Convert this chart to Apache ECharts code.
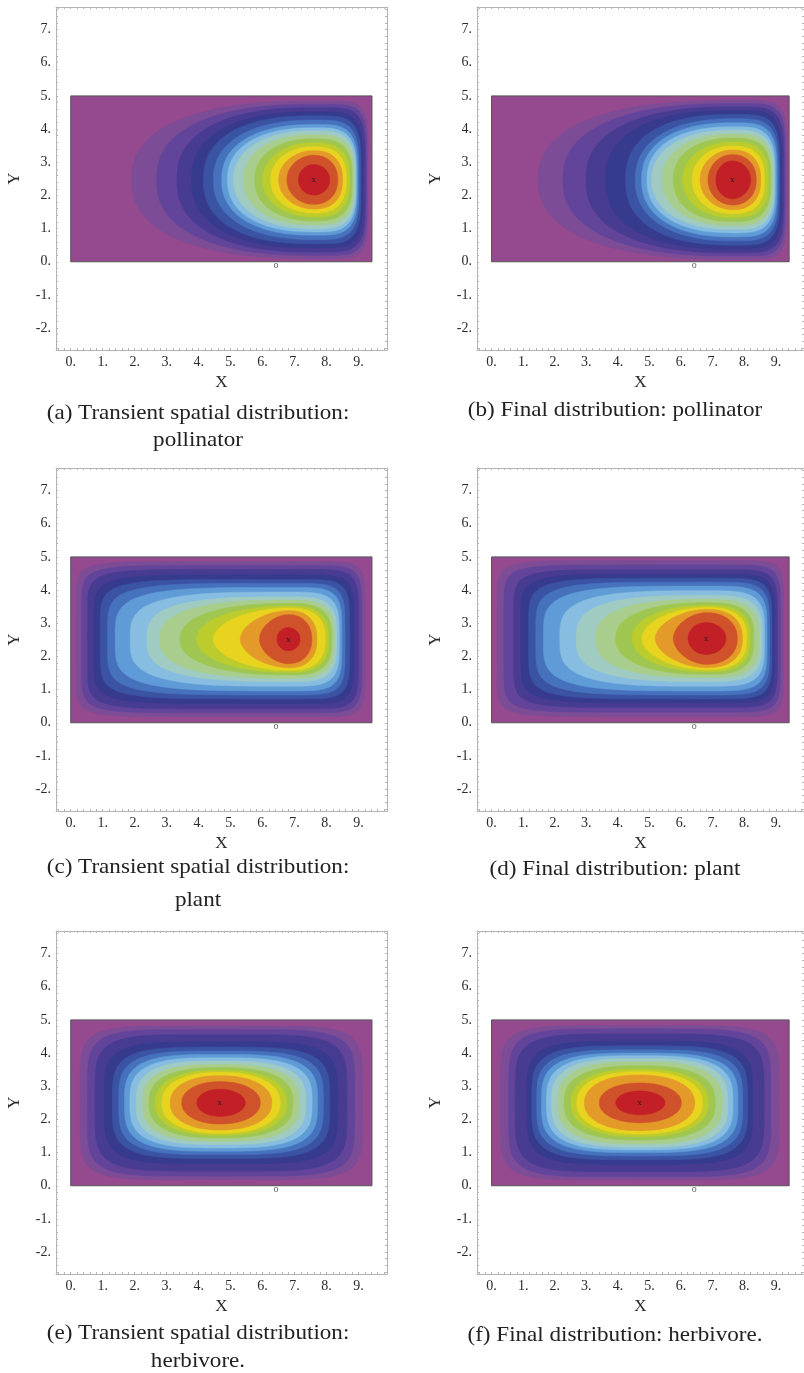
<!DOCTYPE html>
<html><head><meta charset="utf-8">
<script src="https://cdn.jsdelivr.net/npm/echarts@6/dist/echarts.min.js"></script>
<style>html,body{margin:0;padding:0;background:#fff}#c{width:804px;height:1373px}</style>
</head><body><div id="c"></div>
<script>
// ---- contour band colours, outermost (domain background) to innermost ----
const LEVEL_COLORS = ['#95498f','#7d4c96','#62459a','#483c92','#363b8e','#3b53a3','#4672bd','#5f9bd6',
  '#86bde0','#a0cbc3','#a8cd8c','#9fc651','#bccc2d','#e8d31e','#e39a28','#d0522a','#c21f27'];

// ---- tick labels ----
const X_TICKS = [0,1,2,3,4,5,6,7,8,9];
const Y_TICKS = [-2,-1,0,1,2,3,4,5,6,7];
const X_RANGE = [-0.46, 9.89];
const Y_RANGE = [-2.66, 7.68];
const DOMAIN_X = [0, 9.42];
const DOMAIN_Y = [0, 5];
const MARK_O = [6.42, -0.1];

// ---- (a) transient pollinator: per level left/right extent at the peak row, half height, squareness ----
const polTransPeak = [7.6, 2.47];
const polTransXL = [1.91,2.69,3.32,3.78,4.15,4.46,4.72,4.90,5.09,5.40,5.75,6.00,6.25,6.50,6.76,7.12];
const polTransXR = [9.31,9.26,9.21,9.14,9.08,9.02,8.97,8.93,8.90,8.86,8.80,8.72,8.62,8.50,8.35,8.10];
const polTransHH = [2.38,2.28,2.18,2.05,1.93,1.80,1.67,1.57,1.48,1.36,1.24,1.12,1.00,0.88,0.74,0.46];
const polTransPL = [2.4,2.4,2.4,2.4,2.4,2.3,2.3,2.3,2.2,2.2,2.2,2.1,2.1,2.0,2.0,2.0];
const polTransPR = [6,5.5,5,4.6,4.3,4,3.8,3.6,3.4,3.2,3,2.8,2.6,2.4,2.2,2];

// ---- (b) final pollinator ----
const polFinalPeak = [7.62, 2.47];
const polFinalXL = [1.48,2.26,2.99,3.61,4.24,4.55,4.75,4.92,5.07,5.40,5.75,6.05,6.35,6.60,6.85,7.10];
const polFinalXR = [9.35,9.30,9.25,9.19,9.13,9.08,9.03,8.98,8.94,8.90,8.84,8.76,8.64,8.52,8.38,8.20];
const polFinalHH = [2.40,2.30,2.20,2.09,1.97,1.84,1.72,1.60,1.50,1.38,1.26,1.14,1.02,0.90,0.76,0.57];
const polFinalPL = [2.4,2.4,2.4,2.4,2.4,2.3,2.3,2.3,2.2,2.2,2.2,2.1,2.1,2.0,2.0,2.0];
const polFinalPR = [6,5.5,5,4.6,4.3,4,3.8,3.6,3.4,3.2,3,2.8,2.6,2.4,2.2,2];

// ---- (c) transient plant ----
const plantTransPeak = [6.8, 2.52];
const plantTransXL = [0.17,0.34,0.52,0.72,0.92,1.15,1.39,1.86,2.38,2.79,3.42,3.94,4.46,5.30,5.90,6.45];
const plantTransXR = [9.20,9.10,9.00,8.85,8.72,8.58,8.48,8.40,8.32,8.24,8.16,8.06,7.96,7.70,7.54,7.17];
const plantTransHH = [2.34,2.22,2.10,1.94,1.80,1.68,1.56,1.42,1.28,1.18,1.08,1.00,0.94,0.86,0.74,0.35];
const plantTransPL = [10,9,8,7,6,5,4,3.4,3,2.6,2.3,2.1,1.9,1.8,1.8,2];
const plantTransPR = [8,7,6.5,6,5.5,5,4.5,4,3.6,3.2,3,2.8,2.6,2.4,2.2,2];

// ---- (d) final plant ----
const plantFinalPeak = [6.79, 2.54];
const plantFinalXL = [0.18,0.39,0.70,0.93,1.17,1.40,1.64,2.16,2.68,3.30,3.93,4.45,4.76,5.18,5.75,6.22];
const plantFinalXR = [9.25,9.15,9.05,8.96,8.88,8.80,8.72,8.64,8.56,8.46,8.30,8.18,8.08,7.94,7.78,7.42];
const plantFinalHH = [2.35,2.22,2.08,1.94,1.82,1.70,1.58,1.44,1.30,1.18,1.08,1.00,0.94,0.88,0.78,0.48];
const plantFinalPL = [10,9,8,7,6,5,4,3.4,3,2.6,2.3,2.1,1.9,1.8,1.8,2];
const plantFinalPR = [8,7,6.5,6,5.5,5,4.5,4,3.6,3.2,3,2.8,2.6,2.4,2.2,2];

// ---- (e) transient herbivore ----
const herbTransPeak = [4.66, 2.5];
const herbTransXL = [0.29,0.52,0.76,1.05,1.30,1.50,1.68,1.85,2.05,2.25,2.45,2.65,2.85,3.11,3.47,3.94];
const herbTransXR = [9.12,8.88,8.64,8.35,8.10,7.90,7.72,7.55,7.35,7.15,6.95,6.75,6.55,6.29,5.93,5.46];
const herbTransHH = [2.32,2.21,2.06,1.84,1.68,1.56,1.46,1.36,1.26,1.16,1.06,0.98,0.92,0.82,0.64,0.41];
const herbTransP  = [6,5.5,5,4.5,4,3.7,3.4,3.2,3,2.8,2.6,2.4,2.3,2.2,2.1,2];

// ---- (f) final herbivore ----
const herbFinalPeak = [4.68, 2.5];
const herbFinalXL = [0.28,0.54,0.75,1.11,1.27,1.43,1.58,1.74,1.90,2.10,2.30,2.52,2.70,2.94,3.41,3.93];
const herbFinalXR = [9.10,8.84,8.63,8.27,8.11,7.95,7.80,7.64,7.48,7.30,7.08,6.86,6.68,6.43,6.01,5.49];
const herbFinalHH = [2.33,2.23,2.08,1.86,1.72,1.60,1.50,1.42,1.34,1.24,1.12,1.02,0.94,0.84,0.60,0.36];
const herbFinalP  = [6,5.5,5,4.5,4,3.7,3.4,3.2,3,2.8,2.6,2.4,2.3,2.2,2.1,2];

const CAPTIONS = [
  ['(a) Transient spatial distribution:', 'pollinator'],
  ['(b) Final distribution: pollinator'],
  ['(c) Transient spatial distribution:', 'plant'],
  ['(d) Final distribution: plant'],
  ['(e) Transient spatial distribution:', 'herbivore.'],
  ['(f) Final distribution: herbivore.']
];

const panels = [
  {peak: polTransPeak, xl: polTransXL, xr: polTransXR, hh: polTransHH, pl: polTransPL, pr: polTransPR},
  {peak: polFinalPeak, xl: polFinalXL, xr: polFinalXR, hh: polFinalHH, pl: polFinalPL, pr: polFinalPR},
  {peak: plantTransPeak, xl: plantTransXL, xr: plantTransXR, hh: plantTransHH, pl: plantTransPL, pr: plantTransPR},
  {peak: plantFinalPeak, xl: plantFinalXL, xr: plantFinalXR, hh: plantFinalHH, pl: plantFinalPL, pr: plantFinalPR},
  {peak: herbTransPeak, xl: herbTransXL, xr: herbTransXR, hh: herbTransHH, pl: herbTransP, pr: herbTransP},
  {peak: herbFinalPeak, xl: herbFinalXL, xr: herbFinalXR, hh: herbFinalHH, pl: herbFinalP, pr: herbFinalP}
];

// ---- layout ----
const COL_LEFT = [56, 477];
const ROW_TOP = [7, 468, 931];
const GRID_W = 331, GRID_H = 343;
const CAP_CENTER = [198, 615];
const CAP_Y = [[413, 440], [410], [867, 900], [869], [1333, 1361], [1335]];
const SERIF = 'Liberation Serif';
const FRAME = '#b4b4b4';

function ticksEvery(r, step) {
  const out = [];
  for (let v = Math.ceil(r[0] / step) * step; v <= r[1] + 1e-9; v += step) out.push(Math.round(v * 100) / 100);
  return out;
}
const X_MINOR = ticksEvery(X_RANGE, 0.2);
const Y_MINOR = ticksEvery(Y_RANGE, 0.2);

function makeRender(p) {
  return function (params, api) {
    const k = params.dataIndex;
    if (k === 0) {
      const a = api.coord([DOMAIN_X[0], DOMAIN_Y[1]]), b = api.coord([DOMAIN_X[1], DOMAIN_Y[0]]);
      return {type: 'rect', shape: {x: a[0], y: a[1], width: b[0] - a[0], height: b[1] - a[1]},
              style: {fill: LEVEL_COLORS[0]}};
    }
    if (k < LEVEL_COLORS.length) {
      const i = k - 1, cx = p.peak[0], cy = p.peak[1];
      const pts = [], N = 160;
      for (let j = 0; j < N; j++) {
        const t = 2 * Math.PI * j / N, c = Math.cos(t), s = Math.sin(t);
        const right = c >= 0;
        const ex = 2 / (right ? p.pr[i] : p.pl[i]);
        const ax = right ? p.xr[i] - cx : cx - p.xl[i];
        const x = cx + Math.sign(c) * Math.pow(Math.abs(c), ex) * ax;
        const y = cy + Math.sign(s) * Math.pow(Math.abs(s), ex) * p.hh[i];
        pts.push(api.coord([x, y]));
      }
      return {type: 'polygon', shape: {points: pts}, style: {fill: LEVEL_COLORS[k], stroke: LEVEL_COLORS[k], lineWidth: 0.5}};
    }
    // overlay: domain border, peak "x", and "o" marker
    const a = api.coord([DOMAIN_X[0], DOMAIN_Y[1]]), b = api.coord([DOMAIN_X[1], DOMAIN_Y[0]]);
    const pk = api.coord(p.peak), o = api.coord(MARK_O);
    return {type: 'group', children: [
      {type: 'rect', shape: {x: a[0], y: a[1], width: b[0] - a[0], height: b[1] - a[1]},
       style: {fill: 'none', stroke: '#555', lineWidth: 1}},
      {type: 'text', style: {text: 'x', x: pk[0], y: pk[1], fill: '#222', font: '9px ' + SERIF,
        align: 'center', verticalAlign: 'middle'}},
      {type: 'text', style: {text: 'o', x: o[0], y: o[1], fill: '#666', font: '10px ' + SERIF,
        align: 'center', verticalAlign: 'middle'}}
    ]};
  };
}

const grid = [], xAxis = [], yAxis = [], series = [], graphic = [];
panels.forEach((p, g) => {
  const col = g % 2, row = Math.floor(g / 2);
  grid.push({left: COL_LEFT[col], top: ROW_TOP[row], width: GRID_W, height: GRID_H});
  const tickStyle = {show: true, inside: true, length: 2, lineStyle: {color: FRAME}};
  const labelBase = {fontFamily: SERIF, fontSize: 14, color: '#2a2a2a', formatter: v => v + '.'};
  xAxis.push({gridIndex: g, type: 'value', min: X_RANGE[0], max: X_RANGE[1], position: 'bottom',
    axisLine: {show: true, onZero: false, lineStyle: {color: FRAME}},
    axisTick: Object.assign({customValues: X_MINOR}, tickStyle),
    axisLabel: Object.assign({customValues: X_TICKS, margin: 5}, labelBase),
    splitLine: {show: false},
    name: 'X', nameLocation: 'middle', nameGap: 24,
    nameTextStyle: {fontFamily: SERIF, fontSize: 17, color: '#2a2a2a'}});
  xAxis.push({gridIndex: g, type: 'value', min: X_RANGE[0], max: X_RANGE[1], position: 'top',
    axisLine: {show: true, onZero: false, lineStyle: {color: FRAME}},
    axisTick: Object.assign({customValues: X_MINOR}, tickStyle),
    axisLabel: {show: false}, splitLine: {show: false}});
  yAxis.push({gridIndex: g, type: 'value', min: Y_RANGE[0], max: Y_RANGE[1], position: 'left',
    axisLine: {show: true, onZero: false, lineStyle: {color: FRAME}},
    axisTick: Object.assign({customValues: Y_MINOR}, tickStyle),
    axisLabel: Object.assign({customValues: Y_TICKS, margin: 5}, labelBase),
    splitLine: {show: false},
    name: 'Y', nameLocation: 'middle', nameGap: 33,
    nameTextStyle: {fontFamily: SERIF, fontSize: 17, color: '#2a2a2a'}});
  yAxis.push({gridIndex: g, type: 'value', min: Y_RANGE[0], max: Y_RANGE[1], position: 'right',
    axisLine: {show: true, onZero: false, lineStyle: {color: FRAME}},
    axisTick: Object.assign({customValues: Y_MINOR}, tickStyle),
    axisLabel: {show: false}, splitLine: {show: false}});
  const data = [];
  for (let k = 0; k <= LEVEL_COLORS.length; k++) data.push([p.peak[0], p.peak[1]]);
  series.push({type: 'custom', coordinateSystem: 'cartesian2d', xAxisIndex: 2 * g, yAxisIndex: 2 * g,
    renderItem: makeRender(p), data: data, silent: true, clip: false});
  CAPTIONS[g].forEach((line, li) => {
    graphic.push({type: 'text', x: CAP_CENTER[col], y: CAP_Y[g][li], scaleX: 1.1,
      style: {text: line, fill: '#222', font: '21px ' + SERIF, align: 'center', verticalAlign: 'middle'}});
  });
});

const chart = echarts.init(document.getElementById('c'), null, {renderer: 'canvas'});
chart.setOption({animation: false, backgroundColor: '#fff', grid, xAxis, yAxis, series, graphic});
</script>
</body></html>
